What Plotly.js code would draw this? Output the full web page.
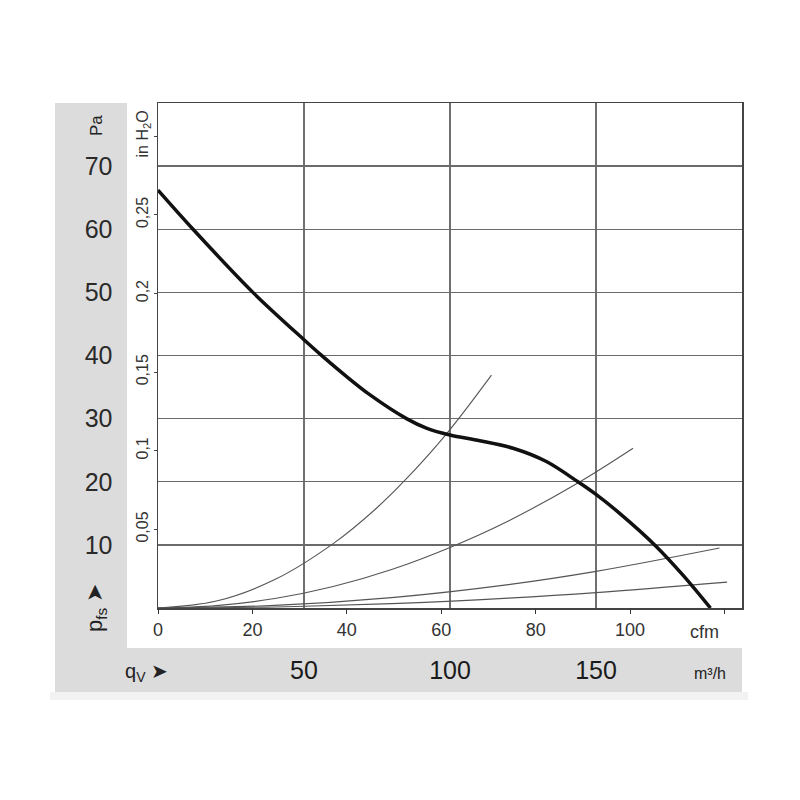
<!DOCTYPE html>
<html><head><meta charset="utf-8">
<script src="https://cdn.plot.ly/plotly-3.0.1.min.js"></script>
<style>body{margin:0;background:#fff}#c{width:800px;height:800px}</style>
</head><body><div id="c"></div>
<script>
// Fan curve (m³/h vs Pa)
const fanFlow = [0, 12, 32.5, 50, 56.3, 64.5, 72.5, 85.1, 91.9, 100, 110.2, 121.6, 133, 143.8, 150, 158.1, 170.1, 180, 189.2];
const fanPress = [66.2, 60, 50, 42.5, 39.9, 36.7, 33.8, 30, 28.5, 27.4, 26.5, 25.3, 23.2, 20, 18.0, 15.0, 10, 5.1, 0];
// System resistance curves
const sys1Flow = [0, 20, 40, 60, 74.8, 84.5, 98.8, 114.2];
const sys1Press = [0, 1.1, 4.5, 10.2, 15.8, 20.2, 27.6, 36.9];
const sys2Flow = [0, 20, 40, 60, 80, 100, 120, 143.8, 162.7];
const sys2Press = [0, 0.38, 1.5, 3.4, 6.1, 9.6, 13.8, 19.8, 25.3];
const sys3Flow = [0, 40, 80, 120, 150, 192.3];
const sys3Press = [0, 0.41, 1.64, 3.7, 5.8, 9.5];
const sys4Flow = [0, 40, 80, 120, 150, 194.9];
const sys4Press = [0, 0.17, 0.69, 1.56, 2.43, 4.1];
// Axis ticks
const paTicks = [10, 20, 30, 40, 50, 60, 70];
const m3hTicks = [50, 100, 150];
const cfmTicks = [0, 20, 40, 60, 80, 100, 120];
const cfmLabels = ["0", "20", "40", "60", "80", "100", ""];
const inH2OTicks = [0.05, 0.1, 0.15, 0.2, 0.25, 0.3];
const inH2OLabels = ["0,05", "0,1", "0,15", "0,2", "0,25", "in H<sub>2</sub>O"];

const PA_PER_INH2O = 249.089;
const M3H_MAX = 200, PA_MAX = 80, CFM_MAX = 123.7;

const FN = '"Liberation Sans Narrow", "Liberation Sans", Arial, sans-serif';
const FR = '"Liberation Sans", Arial, sans-serif';
const thin = {color: '#555', width: 1.1, shape: 'spline', smoothing: 1};

const traces = [
  {x: sys1Flow, y: sys1Press, mode: 'lines', line: thin},
  {x: sys2Flow, y: sys2Press, mode: 'lines', line: thin},
  {x: sys3Flow, y: sys3Press, mode: 'lines', line: thin},
  {x: sys4Flow, y: sys4Press, mode: 'lines', line: thin},
  {x: fanFlow, y: fanPress, mode: 'lines', line: {color: '#111', width: 3.5, shape: 'spline', smoothing: 0.9}},
  // empty traces so that the secondary (cfm, inH2O) axes get drawn
  {x: [], y: [], xaxis: 'x2', yaxis: 'y', mode: 'lines'},
  {x: [], y: [], xaxis: 'x', yaxis: 'y2', mode: 'lines'}
];

const L = 158, W = 584, T = 103, H = 505;
const px = v => (v - L) / W;
const py = v => (T + H - v) / H;

const ann = (x, y, text, font, angle) => ({
  xref: 'paper', yref: 'paper', x: px(x), y: py(y), text, showarrow: false,
  xanchor: 'center', yanchor: 'middle', textangle: angle || 0, font
});

const layout = {
  width: 800, height: 800,
  margin: {l: L, r: 800 - L - W, t: T, b: 800 - T - H},
  paper_bgcolor: '#fff', plot_bgcolor: '#fff',
  showlegend: false,
  font: {family: FN, color: '#222'},
  xaxis: {
    range: [0, M3H_MAX], tickvals: m3hTicks, ticktext: m3hTicks.map(String),
    showgrid: true, gridcolor: '#707070', gridwidth: 1.3,
    showline: true, linecolor: '#444', linewidth: 1.5, mirror: true,
    ticks: '', zeroline: false, ticklabelstandoff: 39,
    tickfont: {family: FN, size: 25, color: '#1a1a1a'}
  },
  xaxis2: {
    overlaying: 'x', anchor: 'y', side: 'bottom',
    range: [0, CFM_MAX], tickvals: cfmTicks, ticktext: cfmLabels,
    showgrid: false, zeroline: false, showline: false,
    ticks: 'outside', ticklen: 5, tickwidth: 1, tickcolor: '#333',
    tickfont: {family: FN, size: 18, color: '#333'}
  },
  yaxis: {
    range: [0, PA_MAX], tickvals: paTicks, ticktext: paTicks.map(String),
    showgrid: true, gridcolor: '#6a6a6a', gridwidth: 1.3,
    showline: true, linecolor: '#444', linewidth: 1.5, mirror: true,
    ticks: '', zeroline: false, ticklabelstandoff: 39,
    tickfont: {family: FN, size: 25, color: '#2a2a2a'}
  },
  yaxis2: {
    overlaying: 'y', anchor: 'x', side: 'left',
    range: [0, PA_MAX / PA_PER_INH2O], tickvals: inH2OTicks, ticktext: inH2OLabels,
    tickangle: -90, showgrid: false, zeroline: false, showline: false,
    ticks: 'outside', ticklen: 3, tickcolor: '#444',
    tickfont: {family: FR, size: 16, color: '#333'}
  },
  shapes: [
    {type: 'rect', xref: 'paper', yref: 'paper', x0: px(55), x1: px(127), y0: py(692), y1: py(103),
     fillcolor: '#dcdcdc', line: {width: 0}, layer: 'below'},
    {type: 'rect', xref: 'paper', yref: 'paper', x0: px(55), x1: px(742), y0: py(692), y1: py(648),
     fillcolor: '#dcdcdc', line: {width: 0}, layer: 'below'},
    {type: 'rect', xref: 'paper', yref: 'paper', x0: px(50), x1: px(748), y0: py(700), y1: py(692),
     fillcolor: '#f2f2f2', line: {width: 0}, layer: 'below'}
  ],
  annotations: [
    ann(96, 126, 'Pa', {family: FR, size: 17, color: '#222'}, -90),
    ann(96, 608, 'p<sub>fs</sub> ➤', {family: FR, size: 22, color: '#222'}, -90),
    ann(146, 672, 'q<sub>V</sub> ➤', {family: FR, size: 20, color: '#222'}),
    ann(710, 673, 'm³/h', {family: FR, size: 16, color: '#222'}),
    ann(704, 632, 'cfm', {family: FN, size: 18, color: '#333'})
  ]
};

Plotly.newPlot('c', traces.map(t => Object.assign({xaxis: 'x', yaxis: 'y', hoverinfo: 'skip'}, t)), layout, {staticPlot: true});
</script></body></html>
